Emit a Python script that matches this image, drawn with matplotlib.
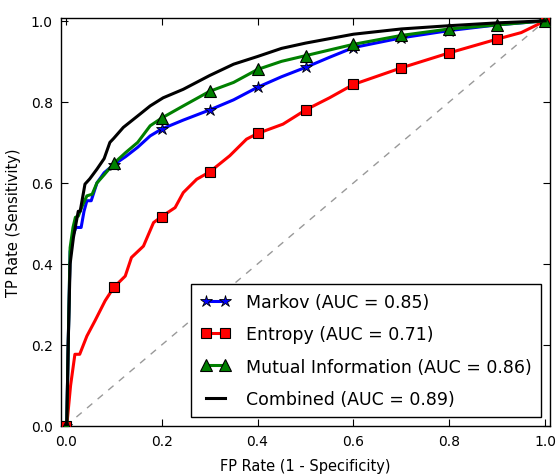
import numpy as np
import matplotlib
matplotlib.use("Agg")
import matplotlib.pyplot as plt

# ---- data ----
markov_fpr = [0.0, 0.002, 0.005, 0.009, 0.015, 0.021, 0.032, 0.038, 0.044, 0.053, 0.065, 0.08, 0.1,
              0.125, 0.15, 0.176, 0.2, 0.245, 0.3, 0.35, 0.4, 0.45, 0.5, 0.55, 0.6, 0.7, 0.8, 0.9, 1.0]
markov_tpr = [0.0, 0.0, 0.2, 0.43, 0.47, 0.49, 0.49, 0.53, 0.556, 0.556, 0.60, 0.625, 0.645,
              0.665, 0.688, 0.716, 0.733, 0.755, 0.78, 0.805, 0.836, 0.862, 0.885, 0.91, 0.934, 0.958, 0.976, 0.99, 1.0]

entropy_fpr = [0.0, 0.002, 0.01, 0.019, 0.029, 0.044, 0.061, 0.082, 0.1, 0.124, 0.137, 0.162, 0.183, 0.2,
               0.228, 0.245, 0.273, 0.3, 0.342, 0.377, 0.4, 0.453, 0.48, 0.5, 0.55, 0.6, 0.7, 0.8, 0.9, 0.95, 1.0]
entropy_tpr = [0.0, 0.0, 0.1, 0.177, 0.177, 0.222, 0.26, 0.309, 0.342, 0.37, 0.416, 0.444, 0.502, 0.517,
               0.539, 0.576, 0.609, 0.627, 0.667, 0.708, 0.722, 0.745, 0.765, 0.78, 0.81, 0.843, 0.884, 0.921, 0.955, 0.971, 1.0]

mutual_fpr = [0.0, 0.002, 0.005, 0.009, 0.015, 0.02, 0.026, 0.035, 0.044, 0.055, 0.065, 0.08, 0.1,
              0.125, 0.15, 0.176, 0.2, 0.245, 0.3, 0.35, 0.4, 0.45, 0.5, 0.6, 0.7, 0.8, 0.9, 1.0]
mutual_tpr = [0.0, 0.0, 0.2, 0.44, 0.49, 0.515, 0.518, 0.545, 0.568, 0.572, 0.60, 0.62, 0.648,
              0.675, 0.70, 0.741, 0.76, 0.79, 0.826, 0.848, 0.88, 0.90, 0.914, 0.942, 0.964, 0.98, 0.99, 1.0]

combined_fpr = [0.0, 0.002, 0.005, 0.009, 0.016, 0.026, 0.03, 0.04, 0.05, 0.065, 0.08, 0.092, 0.1,
                0.12, 0.155, 0.176, 0.203, 0.245, 0.3, 0.35, 0.4, 0.45, 0.5, 0.6, 0.7, 0.8, 0.9, 1.0]
combined_tpr = [0.0, 0.0, 0.2, 0.40, 0.466, 0.53, 0.53, 0.597, 0.61, 0.634, 0.66, 0.70, 0.71,
                0.737, 0.77, 0.79, 0.81, 0.831, 0.865, 0.893, 0.912, 0.932, 0.945, 0.967, 0.98, 0.988, 0.995, 1.0]

labels = ["Markov (AUC = 0.85)", "Entropy (AUC = 0.71)",
          "Mutual Information (AUC = 0.86)", "Combined (AUC = 0.89)"]
ticks = [0.0, 0.2, 0.4, 0.6, 0.8, 1.0]
tick_labels = ["0.0", "0.2", "0.4", "0.6", "0.8", "1.0"]


def tenth_marks(fpr):
    a = np.asarray(fpr)
    return [i for i, v in enumerate(a) if np.isclose(v * 10, np.round(v * 10))]


fig = plt.figure(figsize=(5.59, 4.77), dpi=100)
fig.patch.set_facecolor("white")
ax = fig.add_axes([61 / 559, 1 - 427 / 477, 489 / 559, 408 / 477])

ax.plot([0, 1], [0, 1], linestyle=(0, (5, 5)), color="#999999", lw=1.0, zorder=1)

ax.plot(markov_fpr, markov_tpr, color="b", lw=2.2, marker="*", ms=9, mfc="b", mec="k",
        mew=0.6, markevery=tenth_marks(markov_fpr), label=labels[0], zorder=2)
ax.plot(entropy_fpr, entropy_tpr, color="r", lw=2.2, marker="s", ms=7.5, mfc="r", mec="k",
        mew=0.8, markevery=tenth_marks(entropy_fpr), label=labels[1], zorder=3)
ax.plot(mutual_fpr, mutual_tpr, color="g", lw=2.2, marker="^", ms=8.5, mfc="g", mec="k",
        mew=0.8, markevery=tenth_marks(mutual_fpr), label=labels[2], zorder=4)
ax.plot(combined_fpr, combined_tpr, color="k", lw=2.2, label=labels[3], zorder=5)

ax.set_xlim(-0.01, 1.01)
ax.set_ylim(0.0, 1.007)
ax.set_xticks(ticks)
ax.set_xticklabels(tick_labels)
ax.set_yticks(ticks)
ax.set_yticklabels(tick_labels)
ax.tick_params(direction="in", top=True, right=True, length=5, width=0.8, labelsize=10, pad=6)
for s in ax.spines.values():
    s.set_linewidth(1.0)

ax.set_xlabel("FP Rate (1 - Specificity)", fontsize=10.5, labelpad=7)
ax.set_ylabel("TP Rate (Sensitivity)", fontsize=10.5, labelpad=7)

leg = ax.legend(loc="lower right", fontsize=12.5, numpoints=2, fancybox=False,
                framealpha=1, edgecolor="k", handlelength=1.7, handletextpad=0.9,
                labelspacing=0.82, borderpad=0.55, borderaxespad=0.5)
leg.get_frame().set_linewidth(1.0)

fig.savefig("out.png", dpi=100, facecolor="white")
